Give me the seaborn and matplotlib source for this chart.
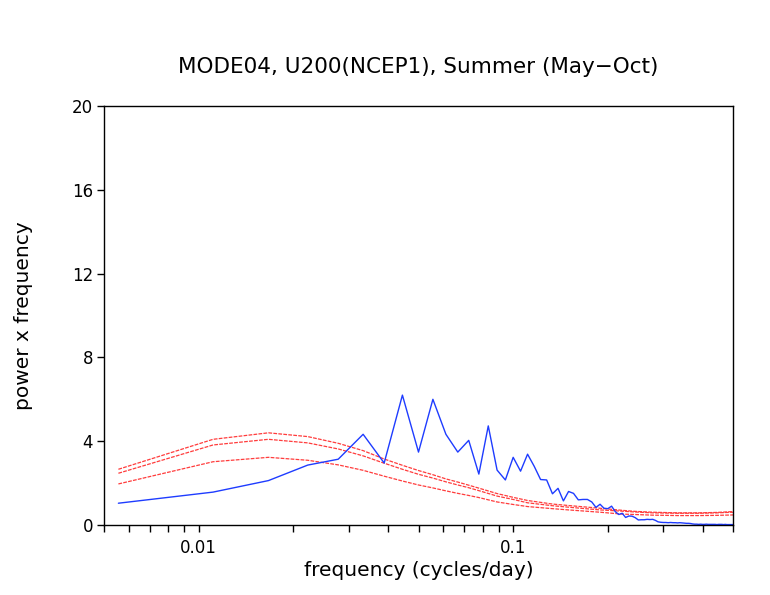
import matplotlib
matplotlib.use("Agg")
import matplotlib.pyplot as plt
import matplotlib.ticker as mticker
import seaborn as sns
import pandas as pd
import numpy as np

# ---- data ----
n_days = 180
k_blue = list(range(1, 91))
blue_vals = [1.04, 1.57, 2.12, 2.86, 3.14, 4.33, 2.96, 6.20, 3.48, 6.00,
             4.33, 3.48, 4.04, 2.43, 4.73, 2.62, 2.15, 3.23, 2.57, 3.38,
             2.80, 2.17, 2.15, 1.49, 1.75, 1.15, 1.60, 1.51, 1.20, 1.22,
             1.22, 1.10, 0.84, 0.99, 0.80, 0.78, 0.90, 0.64, 0.50, 0.56,
             0.36, 0.43, 0.42, 0.35, 0.24, 0.25, 0.25, 0.27, 0.26, 0.27,
             0.22, 0.15, 0.13, 0.12, 0.12, 0.11, 0.12, 0.11, 0.11, 0.10,
             0.11, 0.10, 0.09, 0.08, 0.08, 0.07, 0.05, 0.04, 0.04, 0.03,
             0.04, 0.03, 0.03, 0.04, 0.03, 0.03, 0.03, 0.03, 0.03, 0.02,
             0.03, 0.03, 0.03, 0.02, 0.03, 0.02, 0.02, 0.02, 0.02, 0.02]

k_red = [1, 2, 3, 4, 5, 6, 7, 8, 9, 10, 11, 12, 13, 14, 16, 18, 20, 24, 27,
         30, 34, 40, 44, 50, 60, 70, 80, 90]
red_99 = [2.66, 4.09, 4.40, 4.22, 3.90, 3.55, 3.15, 2.85, 2.60, 2.40, 2.20,
          2.05, 1.90, 1.76, 1.50, 1.32, 1.17, 1.00, 0.93, 0.87, 0.80, 0.70,
          0.65, 0.61, 0.58, 0.58, 0.60, 0.64]
red_95 = [2.47, 3.82, 4.09, 3.92, 3.63, 3.30, 2.95, 2.66, 2.42, 2.24, 2.06,
          1.91, 1.78, 1.64, 1.38, 1.22, 1.06, 0.92, 0.85, 0.79, 0.72, 0.66,
          0.62, 0.58, 0.56, 0.56, 0.58, 0.61]
red_50 = [1.96, 3.02, 3.23, 3.09, 2.87, 2.61, 2.33, 2.10, 1.91, 1.77, 1.63,
          1.51, 1.41, 1.31, 1.10, 0.98, 0.88, 0.78, 0.72, 0.67, 0.61, 0.52,
          0.50, 0.47, 0.45, 0.45, 0.46, 0.48]

title = "MODE04, U200(NCEP1), Summer (May\u2212Oct)"
xlabel = "frequency (cycles/day)"
ylabel = "power x frequency"
yticks = [0, 4, 8, 12, 16, 20]

# ---- frames ----
df_blue = pd.DataFrame({"freq": [k / n_days for k in k_blue], "val": blue_vals})
df_red = pd.DataFrame({"freq": [k / n_days for k in k_red],
                       "r99": red_99, "r95": red_95, "r50": red_50})

sns.set_style("white")
plt.rcParams["font.family"] = ["DejaVu Sans"]
plt.rcParams["text.color"] = "black"
plt.rcParams["axes.labelcolor"] = "black"
plt.rcParams["xtick.color"] = "black"
plt.rcParams["ytick.color"] = "black"

fig = plt.figure(figsize=(7.7, 5.95), dpi=100)
ax = fig.add_axes([104 / 770, 1 - 525 / 595, (733 - 104) / 770, (525 - 106) / 595])

red = "#ff3c3c"
blue = "#1e3cff"
for col in ["r99", "r95", "r50"]:
    sns.lineplot(data=df_red, x="freq", y=col, ax=ax, color=red, lw=0.9,
                 linestyle=(0, (3, 1)), estimator=None, sort=False)
sns.lineplot(data=df_blue, x="freq", y="val", ax=ax, color=blue, lw=1.0,
             estimator=None, sort=False)

ax.set_xscale("log")
ax.set_xlim(0.005, 0.5)
ax.set_ylim(0, 20)
ax.set_yticks(yticks)
ax.set_yticklabels([str(v) for v in yticks])
ax.xaxis.set_major_locator(mticker.FixedLocator([0.01, 0.1]))
ax.xaxis.set_major_formatter(mticker.FixedFormatter(["0.01", "0.1"]))
ax.xaxis.set_minor_locator(mticker.LogLocator(base=10, subs=np.arange(2, 10)))
ax.xaxis.set_minor_formatter(mticker.NullFormatter())

for s in ax.spines.values():
    s.set_visible(True)
    s.set_color("black")
    s.set_linewidth(1.0)

ax.tick_params(axis="both", which="both", direction="out", length=5, width=1,
               color="black", labelcolor="black", labelsize=12, top=False,
               right=False, bottom=True, left=True)
ax.tick_params(axis="x", pad=5)
ax.tick_params(axis="y", pad=3)

ax.set_xlabel(xlabel, fontsize=14.5, labelpad=3, color="black")
ax.set_ylabel(ylabel, fontsize=14.5, labelpad=28, color="black")
ax.set_title(title, fontsize=15.5, pad=24, color="black")

fig.savefig("out.png", dpi=100)
